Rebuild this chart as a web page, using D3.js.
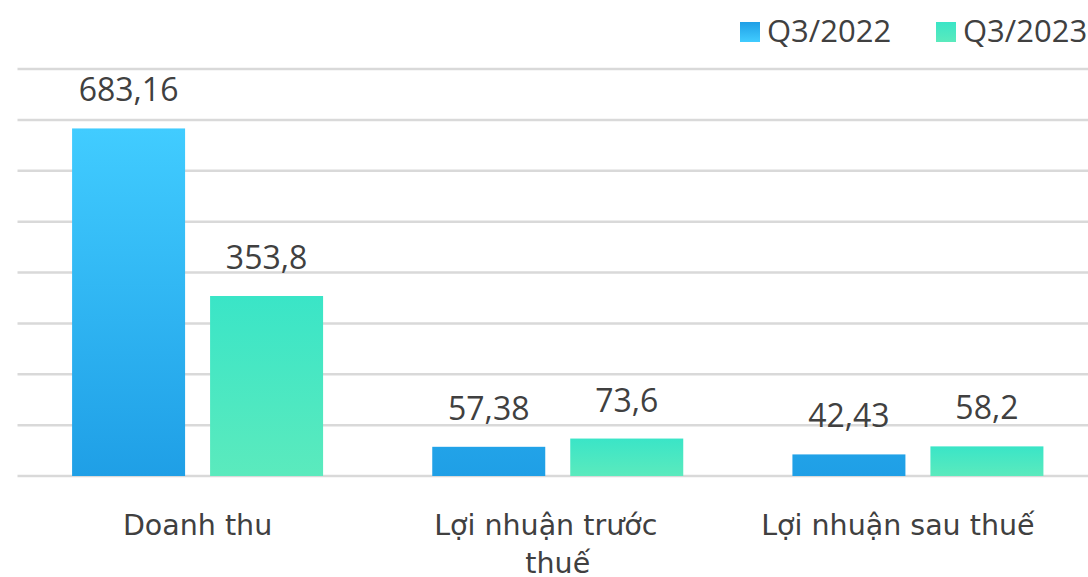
<!DOCTYPE html>
<html>
<head>
<meta charset="utf-8">
<script src="https://cdn.jsdelivr.net/npm/d3@7"></script>
<style>
  body { margin: 0; background: #fff; }
  svg { display: block; }
</style>
</head>
<body>
<script>
var categories = ['Doanh thu', 'Lợi nhuận trước thuế', 'Lợi nhuận sau thuế'];
var seriesNames = ['Q3/2022', 'Q3/2023'];
var q2022 = [683.16, 57.38, 42.43];
var q2023 = [353.8, 73.6, 58.2];
var yTicks = [0, 100, 200, 300, 400, 500, 600, 700, 800];

var width = 1088, height = 577;
var plotLeft = 17.5, plotRight = 1098, plotTop = 69, plotBottom = 476;

var svg = d3.select('body').append('svg')
  .attr('width', width)
  .attr('height', height);

var defs = svg.append('defs');

// blue: gradient over the whole plot height
var gBlue = defs.append('linearGradient')
  .attr('id', 'gBlue')
  .attr('gradientUnits', 'userSpaceOnUse')
  .attr('x1', 0).attr('x2', 0).attr('y1', 129).attr('y2', plotBottom);
gBlue.append('stop').attr('offset', '0%').style('stop-color', '#41CCFF');
gBlue.append('stop').attr('offset', '100%').style('stop-color', '#1F9FE6');

var gGreen = defs.append('linearGradient')
  .attr('id', 'gGreen')
  .attr('x1', '0%').attr('x2', '0%').attr('y1', '0%').attr('y2', '100%');
gGreen.append('stop').attr('offset', '0%').style('stop-color', '#3AE5C7');
gGreen.append('stop').attr('offset', '100%').style('stop-color', '#5BEABD');

var gBlueLeg = defs.append('linearGradient')
  .attr('id', 'gBlueLeg')
  .attr('x1', '0%').attr('x2', '0%').attr('y1', '0%').attr('y2', '100%');
gBlueLeg.append('stop').attr('offset', '0%').style('stop-color', '#1F9FE6');
gBlueLeg.append('stop').attr('offset', '100%').style('stop-color', '#41CCFF');

var fills = ['url(#gBlue)', 'url(#gGreen)'];
var legFills = ['url(#gBlueLeg)', 'url(#gGreen)'];

var x = d3.scaleBand()
  .domain(categories)
  .range([plotLeft, plotRight])
  .paddingInner(0)
  .paddingOuter(0);

var y = d3.scaleLinear()
  .domain([0, 800])
  .range([plotBottom, plotTop]);

var barW = 113, barGap = 25;

// gridlines
svg.append('g').selectAll('line')
  .data(yTicks)
  .enter().append('line')
    .attr('x1', plotLeft)
    .attr('x2', width)
    .attr('y1', d => y(d))
    .attr('y2', d => y(d))
    .attr('stroke', '#D9D9D9')
    .attr('stroke-width', 2.5);

var data = [q2022, q2023];

data.forEach(function(serie, i) {
  var g = svg.append('g');
  serie.forEach(function(v, j) {
    var cx = x(categories[j]) + x.bandwidth() / 2;
    var bx = i === 0 ? cx - barGap / 2 - barW : cx + barGap / 2;
    g.append('rect')
      .attr('x', bx)
      .attr('y', y(v))
      .attr('width', barW)
      .attr('height', y(0) - y(v))
      .attr('fill', fills[i]);
    g.append('text')
      .attr('x', bx + barW / 2)
      .attr('y', y(v) - 27)
      .attr('text-anchor', 'middle')
      .style('font-family', '"Open Sans", "Noto Sans", sans-serif')
      .style('font-size', '32px')
      .style('fill', '#404040')
      .text(String(v).replace('.', ','));
  });
});

// category labels (wrapped); long lines nudged left like the original
var catG = svg.append('g')
  .style('font-family', '"DejaVu Sans", sans-serif')
  .style('font-size', '28.5px')
  .style('fill', '#404040');

function wrapLines(label) {
  if (label === 'Lợi nhuận trước thuế') return [['Lợi nhuận trước', -12], ['thuế', 0]];
  if (label === 'Lợi nhuận sau thuế') return [[label, -20]];
  return [[label, 0]];
}

categories.forEach(function(c) {
  var cx = x(c) + x.bandwidth() / 2;
  var t = catG.append('text')
    .attr('x', cx)
    .attr('y', 535)
    .attr('text-anchor', 'middle');
  wrapLines(c).forEach(function(line, k) {
    t.append('tspan')
      .attr('x', cx + line[1])
      .attr('dy', k === 0 ? 0 : 38)
      .text(line[0]);
  });
});

// legend
var legX = [740, 936];
var leg = svg.append('g')
  .style('font-family', '"Open Sans", "Noto Sans", sans-serif')
  .style('font-size', '31px')
  .style('fill', '#404040');
seriesNames.forEach(function(n, i) {
  leg.append('rect')
    .attr('x', legX[i]).attr('y', 22)
    .attr('width', 20).attr('height', 20)
    .attr('fill', legFills[i]);
  leg.append('text')
    .attr('x', legX[i] + 27)
    .attr('y', 42)
    .text(n);
});
</script>
</body>
</html>
